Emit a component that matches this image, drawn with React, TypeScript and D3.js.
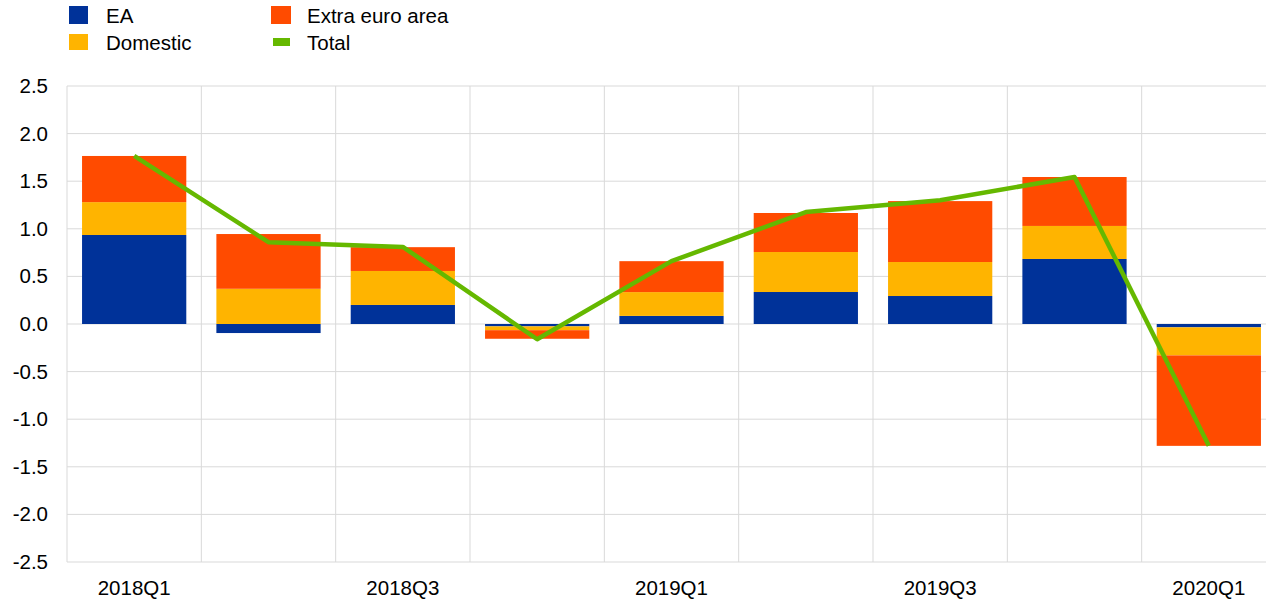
import React from "react";
import * as d3 from "d3";

const categories = ["2018Q1", "2018Q2", "2018Q3", "2018Q4", "2019Q1", "2019Q2", "2019Q3", "2019Q4", "2020Q1"];
const tickLabels = ["2018Q1", "", "2018Q3", "", "2019Q1", "", "2019Q3", "", "2020Q1"];
const ea = [0.935, -0.095, 0.2, -0.025, 0.085, 0.336, 0.294, 0.683, -0.035];
const domestic = [0.345, 0.37, 0.357, -0.04, 0.25, 0.42, 0.357, 0.347, -0.295];
const extra = [0.485, 0.575, 0.25, -0.09, 0.325, 0.41, 0.64, 0.514, -0.95];
const total = [1.765, 0.86, 0.81, -0.16, 0.66, 1.176, 1.3, 1.544, -1.28];
const yTicks = [-2.5, -2.0, -1.5, -1.0, -0.5, 0.0, 0.5, 1.0, 1.5, 2.0, 2.5];

const seriesKeys = ["ea", "domestic", "extra"];
const seriesColors: Record<string, string> = { ea: "#003299", domestic: "#FFB400", extra: "#FF4B00" };
const totalColor = "#65B800";

export default function App() {
  const W = 1266, H = 599;
  const left = 67, right = 1276, top = 86, bottom = 562;
  const x = d3.scaleBand<string>().domain(categories).range([left, right]).paddingInner(0.224).paddingOuter(0.112);
  const y = d3.scaleLinear().domain([-2.5, 2.5]).range([bottom, top]);
  const rows = categories.map((c, i) => ({ cat: c, ea: ea[i], domestic: domestic[i], extra: extra[i] }));
  const stacked = d3.stack<any>().keys(seriesKeys).offset(d3.stackOffsetDiverging)(rows);
  const step = x.step();
  const gridXs = categories.slice(1).map((c) => (x(c) as number) - (step - x.bandwidth()) / 2);
  const line = d3.line<number>().x((_, i) => (x(categories[i]) as number) + x.bandwidth() / 2).y((v) => y(v));
  const font = "'Liberation Sans', Arial, sans-serif";
  const fs = 20.5;
  return (
    <svg width={W} height={H} style={{ position: "absolute", left: 0, top: 0, background: "#fff" }} fontFamily={font}>
      {yTicks.map((t) => (
        <line key={"gy" + t} x1={left} x2={right} y1={y(t)} y2={y(t)} stroke="#d9d9d9" strokeWidth={1} />
      ))}
      <line x1={left} x2={left} y1={top} y2={bottom} stroke="#d9d9d9" />
      {gridXs.map((gx, i) => (
        <line key={"gx" + i} x1={gx} x2={gx} y1={top} y2={bottom} stroke="#d9d9d9" />
      ))}
      {stacked.map((s) => (
        <g key={s.key} fill={seriesColors[s.key]}>
          {s.map((d, i) => (
            <rect key={i} x={x(categories[i])} width={x.bandwidth()} y={y(Math.max(d[0], d[1]))} height={Math.abs(y(d[0]) - y(d[1]))} />
          ))}
        </g>
      ))}
      <path d={line(total) as string} fill="none" stroke={totalColor} strokeWidth={4.5} strokeLinejoin="round" />
      {yTicks.map((t) => (
        <text key={"ty" + t} x={48} y={y(t) + 7} textAnchor="end" fontSize={fs} fill="#000">{t.toFixed(1)}</text>
      ))}
      {categories.map((c, i) => (
        <text key={"tx" + c} x={(x(c) as number) + x.bandwidth() / 2} y={595} textAnchor="middle" fontSize={fs} fill="#000">{tickLabels[i]}</text>
      ))}
      <rect x={69} y={6} width={19} height={18} fill={seriesColors.ea} />
      <text x={106} y={23} fontSize={fs}>EA</text>
      <rect x={69} y={34} width={19} height={16} fill={seriesColors.domestic} />
      <text x={106} y={50} fontSize={fs}>Domestic</text>
      <rect x={271} y={6} width={20} height={18} fill={seriesColors.extra} />
      <text x={307} y={23} fontSize={fs}>Extra euro area</text>
      <rect x={273} y={38} width={17} height={8} fill={totalColor} />
      <text x={307} y={50} fontSize={fs}>Total</text>
    </svg>
  );
}
